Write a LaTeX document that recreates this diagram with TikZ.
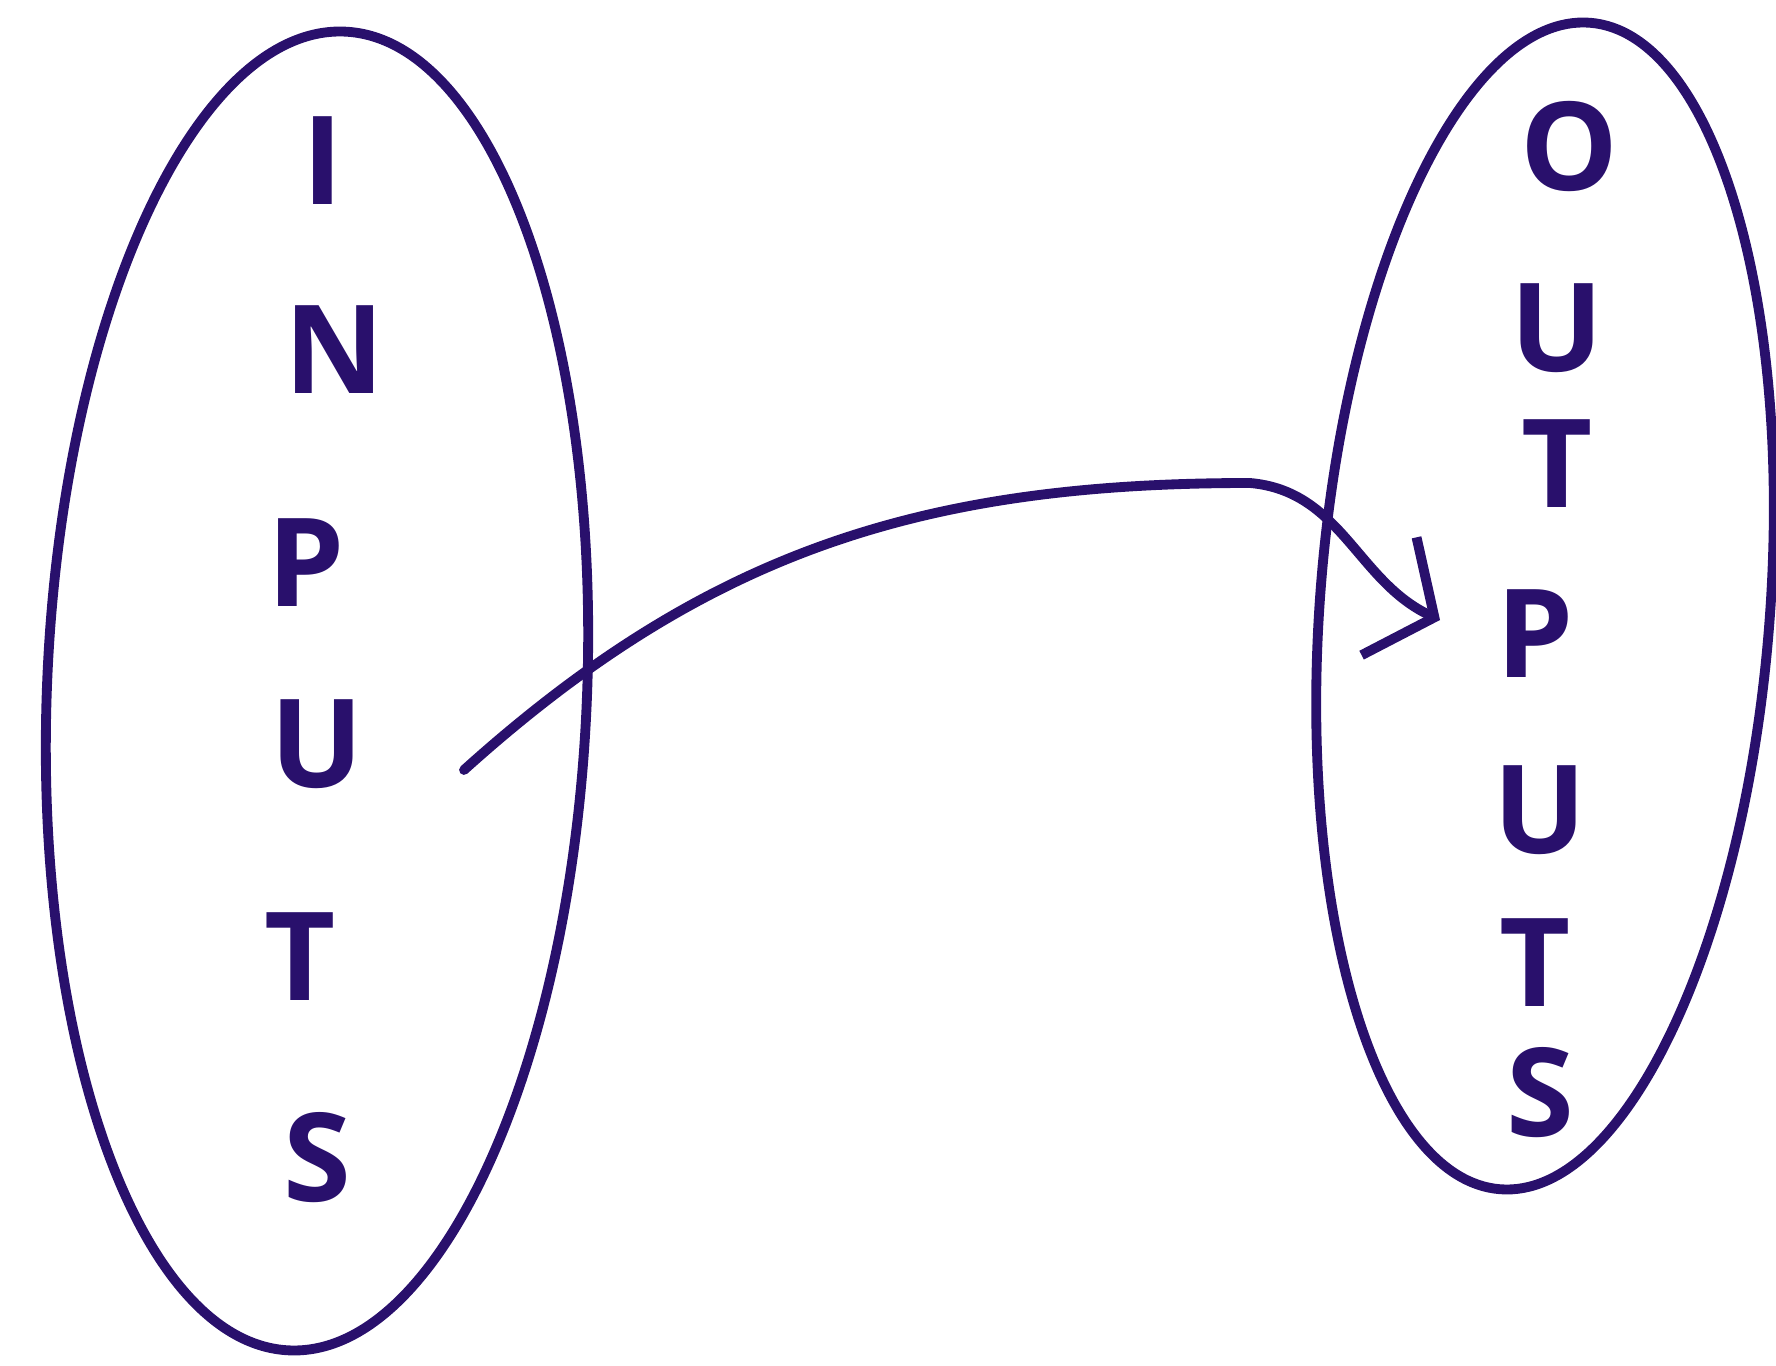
\documentclass[tikz,border=0pt]{standalone}
\usepackage{fontspec}
\setmainfont{Open Sans}
\usetikzlibrary{shapes.geometric,arrows.meta}
\definecolor{ink}{HTML}{29106C}
\begin{document}
\begin{tikzpicture}[>={Straight Barb[length=5mm,width=13mm,line width=2.8pt]}]
        \useasboundingbox (0,0) rectangle (17.76,13.65);
        % Styles
        \tikzstyle{blob}=[ellipse, draw=ink, line width=2.8pt, inner sep=0pt]
        \tikzstyle{letter}=[text=ink, font=\bfseries\fontsize{35}{38}\selectfont, inner sep=1pt]

        % Sets
        \node[blob, minimum width=5.4cm, minimum height=13.2cm, rotate=-2.4] (inset) at (3.17,6.74) {};
        \node[blob, minimum width=4.5cm, minimum height=11.7cm, rotate=-4.4] (outset) at (15.45,7.59) {};

        % Letters
        \node[letter] (i1) at (3.23,12.04) {I};
        \node[letter] (i2) at (3.34,10.15) {N};
        \node[letter] (i3) at (3.06,8.02) {P};
        \node[letter] (i4) at (3.17,6.21) {U};
        \node[letter] (i5) at (3.00,4.08) {T};
        \node[letter] (i6) at (3.17,2.07) {S};

        \node[letter] (o1) at (15.69,12.18) {O};
        \node[letter] (o2) at (15.57,10.37) {U};
        \node[letter] (o3) at (15.57,9.01) {T};
        \node[letter] (o4) at (15.35,7.31) {P};
        \node[letter] (o5) at (15.40,5.55) {U};
        \node[letter] (o6) at (15.35,4.02) {T};
        \node[letter] (o7) at (15.40,2.72) {S};

        % Arrow
        \coordinate (src) at (4.64,5.95);
        \coordinate (peak) at (12.5,8.82);
        \coordinate (dst) at (14.4,7.45);
        \draw[->, ink, line width=2.8pt, line cap=round] (src) to[out=42, in=180] (peak) to[out=-5, in=155] (dst);
    \end{tikzpicture}
\end{document}
